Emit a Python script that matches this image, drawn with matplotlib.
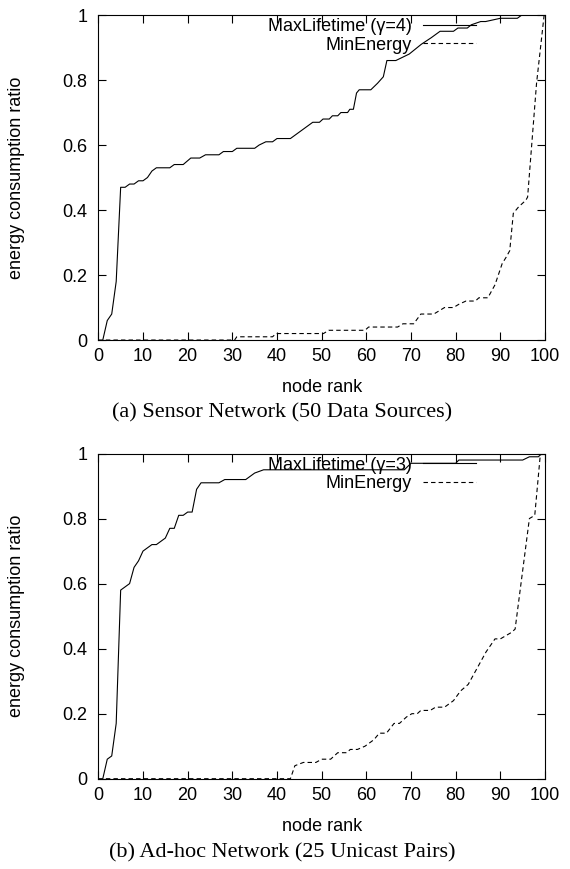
import matplotlib
matplotlib.use("Agg")
import matplotlib.pyplot as plt

plt.rcParams['font.family'] = ['Liberation Sans', 'DejaVu Sans']

# (a) Sensor Network (50 Data Sources)
rang_a_max = [1, 2, 3, 4, 5, 6, 7, 8, 9, 10, 11, 12, 13, 16, 17, 19, 20.7, 22.7, 24, 27,
              28, 30, 31, 35, 36, 37.5, 39, 40, 43, 48, 49.5, 50.3, 51.7, 52.4, 53.6, 54.3,
              55.8, 56.3, 57.1, 57.8, 58.4, 61, 62.5, 63.8, 64.6, 66.6, 69.6, 72.3, 74.5,
              76.5, 79.5, 80.5, 82.6, 83.5, 85.6, 86.7, 90, 93.8, 94.8, 100]
ratio_a_max = [0, .06, .08, .18, .47, .47, .48, .48, .49, .49, .50, .52, .53, .53, .54, .54, .56, .56, .57, .57,
               .58, .58, .59, .59, .60, .61, .61, .62, .62, .67, .67, .68, .68, .69, .69, .70,
               .70, .71, .71, .76, .77, .77, .79, .81, .86, .86, .88, .91, .93,
               .95, .95, .96, .96, .97, .98, .98, .99, .99, 1.0, 1.0]

rang_a_min = [0, 30.5, 31, 39, 39.8, 50.4, 51.6, 59.7, 60.5, 67, 68.2, 70.6, 72.2, 75.1, 76.3,
              77.5, 79.5, 80.7, 82.3, 84.4, 85.2, 87.2, 88, 88.8, 90.4, 91.3, 92.1, 92.9,
              94.1, 95.7, 96.1, 98.1, 99.8]
ratio_a_min = [0, 0, .01, .01, .02, .02, .03, .03, .04, .04, .05, .05, .08, .08, .09,
               .10, .10, .11, .12, .12, .13, .13, .15, .17, .235, .255, .275, .39,
               .41, .43, .44, .79, 1.0]

# (b) Ad-hoc Network (25 Unicast Pairs)
rang_b_max = [1, 2, 3, 4, 5, 6, 7, 8, 9, 10, 11, 12, 13, 14, 15, 16, 17, 18, 19, 20, 21, 22, 23,
              27, 28.3, 33, 34, 35, 37, 68.5, 70, 80, 80.7, 95, 96.5, 98.5, 99.3, 100]
ratio_b_max = [0, .06, .07, .17, .58, .59, .60, .65, .67, .70, .71, .72, .72, .73, .74, .77, .77,
               .81, .81, .82, .82, .89, .91,
               .91, .92, .92, .93, .94, .95, .95, .97, .97, .98, .98, .99, .99, 1.0, 1.0]

rang_b_min = [0, 43, 44, 45.9, 48.7, 50, 52, 53.6, 55.6, 56.4, 58, 59.7, 61.7, 62.9, 64.5,
              66.2, 67.4, 69, 70.2, 71.4, 72.2, 74.3, 75.5, 77.5, 79.5, 81.1, 82.8, 84, 85.2,
              86.8, 88.8, 90, 92.5, 93.3, 96.5, 97.7, 98.9, 99.4]
ratio_b_min = [0, 0, .04, .05, .05, .06, .06, .08, .08, .09, .09, .10, .12, .14, .14,
               .17, .17, .19, .20, .20, .21, .21, .22, .22, .24, .27, .29, .32, .35,
               .39, .43, .43, .45, .46, .80, .81, .99, 1.0]

x_ticks = list(range(0, 101, 10))
y_ticks = [0, 0.2, 0.4, 0.6, 0.8, 1]
y_tick_labels = ["0", "0.2", "0.4", "0.6", "0.8", "1"]


def trace(ax, rang_max, ratio_max, rang_min, ratio_min, gamma):
    ax.plot(rang_max, ratio_max, color="black", lw=0.8, label="MaxLifetime (\u03b3=%d)" % gamma)
    ax.plot(rang_min, ratio_min, color="black", lw=0.8, ls=(0, (4, 2.8)), label="MinEnergy")

    ax.set_xlim(0, 100)
    ax.set_ylim(0, 1)
    ax.set_xticks(x_ticks)
    ax.set_yticks(y_ticks)
    ax.set_yticklabels(y_tick_labels)
    ax.tick_params(direction="in", length=6, width=0.8, top=True, right=True, labelsize=13)
    ax.tick_params(axis="x", pad=6)
    ax.tick_params(axis="y", pad=8)
    for spine in ax.spines.values():
        spine.set_linewidth(0.8)

    ax.set_xlabel("node rank", fontsize=13, labelpad=10)
    ax.set_ylabel("energy consumption ratio", fontsize=13)
    ax.yaxis.set_label_coords(-0.165, 0.5)

    ax.legend(loc="upper right", bbox_to_anchor=(0.845, 0.99), frameon=False, markerfirst=False,
              handlelength=2.9, handletextpad=0.65, labelspacing=0.08, fontsize=13,
              borderaxespad=0, borderpad=0)


fig = plt.figure(figsize=(5.7, 8.69), dpi=100)
ax_a = fig.add_axes([0.1725, 0.6087, 0.7837, 0.374])
ax_b = fig.add_axes([0.1725, 0.1039, 0.7837, 0.3742])

trace(ax_a, rang_a_max, ratio_a_max, rang_a_min, ratio_a_min, 4)
trace(ax_b, rang_b_max, ratio_b_max, rang_b_min, ratio_b_min, 3)

fig.text(0.495, 0.5245, "(a) Sensor Network (50 Data Sources)", ha="center", va="center",
         family=["Liberation Serif", "DejaVu Serif"], fontsize=16)
fig.text(0.495, 0.0185, "(b) Ad-hoc Network (25 Unicast Pairs)", ha="center", va="center",
         family=["Liberation Serif", "DejaVu Serif"], fontsize=16)

fig.savefig("out.png", dpi=100)
